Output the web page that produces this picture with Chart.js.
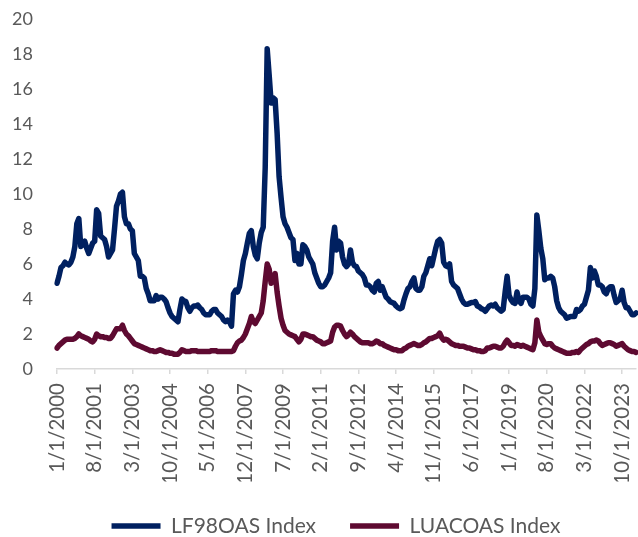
<!DOCTYPE html>
<html>
<head>
<meta charset="utf-8">
<script src="https://cdn.jsdelivr.net/npm/chart.js@4.4.1/dist/chart.umd.min.js"></script>
<style>
  html, body { margin: 0; padding: 0; background: #ffffff; }
  #wrap { width: 638px; height: 537px; }
</style>
</head>
<body>
<div id="wrap"><canvas id="c" width="638" height="537"></canvas></div>
<script>
// Monthly categories, Jan 2000 .. May 2024
const startYear = 2000;
const monthCount = 293;
const categories = [];
for (let i = 0; i < monthCount; i++) {
  const y = startYear + Math.floor(i / 12);
  const m = (i % 12) + 1;
  categories.push(m + '/1/' + y);
}

// Labels shown on the category axis
const tickLabels = ['1/1/2000','8/1/2001','3/1/2003','10/1/2004','5/1/2006','12/1/2007','7/1/2009',
  '2/1/2011','9/1/2012','4/1/2014','11/1/2015','6/1/2017','1/1/2019','8/1/2020','3/1/2022','10/1/2023'];

const yTicks = [0, 2, 4, 6, 8, 10, 12, 14, 16, 18, 20];

// LF98OAS Index (US High Yield OAS, %)
const hyOAS = [
  4.9, 5.3, 5.8, 5.9, 6.1, 6.0, 5.95, 6.1, 6.4, 7.0, 8.3, 8.6,      // 2000
  7.0, 7.1, 7.3, 6.9, 6.6, 6.9, 7.2, 7.3, 9.1, 8.9, 7.6, 7.5,       // 2001
  7.4, 7.0, 6.4, 6.6, 6.8, 8.0, 9.3, 9.6, 10.0, 10.1, 8.7, 8.3,     // 2002
  8.3, 8.0, 7.9, 6.6, 6.4, 6.2, 5.3, 5.3, 5.2, 4.6, 4.3, 3.9,       // 2003
  3.9, 3.9, 4.2, 4.0, 4.1, 4.1, 4.0, 3.85, 3.5, 3.2, 3.0, 2.9,      // 2004
  2.8, 2.7, 3.4, 4.0, 3.9, 3.85, 3.5, 3.3, 3.5, 3.6, 3.6, 3.65,     // 2005
  3.5, 3.4, 3.2, 3.1, 3.1, 3.1, 3.3, 3.4, 3.4, 3.2, 3.1, 3.0,       // 2006
  2.8, 2.7, 2.8, 2.7, 2.45, 4.3, 4.5, 4.4, 4.7, 5.4, 6.2, 6.6,      // 2007
  7.2, 7.75, 7.9, 7.0, 6.5, 6.3, 7.2, 7.8, 8.1, 11.5, 18.3, 16.8,   // 2008
  15.2, 15.5, 15.4, 13.5, 11.0, 9.8, 8.7, 8.3, 8.1, 7.8, 7.5, 7.4,  // 2009
  6.2, 6.6, 6.0, 6.0, 7.1, 7.0, 6.8, 6.4, 6.2, 6.0, 5.5, 5.2,       // 2010
  4.9, 4.7, 4.7, 4.8, 5.0, 5.2, 5.5, 7.3, 8.1, 6.8, 7.3, 7.2,       // 2011
  6.4, 6.0, 5.85, 6.0, 6.8, 6.1, 5.9, 5.85, 5.6, 5.5, 5.4, 5.2,     // 2012
  4.8, 4.8, 4.7, 4.5, 4.4, 4.9, 5.0, 4.5, 4.7, 4.4, 4.1, 4.0,       // 2013
  3.85, 3.8, 3.75, 3.6, 3.5, 3.45, 3.5, 3.95, 4.3, 4.6, 4.7, 5.0,   // 2014
  5.2, 4.6, 4.5, 4.5, 4.7, 5.3, 5.5, 5.9, 6.3, 5.9, 6.4, 6.9,       // 2015
  7.3, 7.4, 7.2, 6.1, 5.9, 5.85, 6.0, 5.0, 4.8, 4.7, 4.6, 4.3,      // 2016
  4.0, 3.8, 3.7, 3.7, 3.75, 3.8, 3.8, 3.85, 3.6, 3.55, 3.45, 3.4,   // 2017
  3.3, 3.45, 3.6, 3.65, 3.6, 3.7, 3.5, 3.4, 3.3, 3.4, 4.4, 5.3,     // 2018
  4.2, 3.95, 3.8, 3.75, 4.4, 3.9, 3.75, 4.1, 4.1, 4.1, 4.0, 3.7,    // 2019
  3.6, 4.6, 8.8, 7.9, 6.9, 6.3, 5.1, 5.2, 5.2, 5.3, 5.2, 4.7,       // 2020
  3.9, 3.5, 3.3, 3.2, 3.1, 2.9, 2.95, 3.0, 3.0, 3.0, 3.4, 3.3,      // 2021
  3.4, 3.6, 3.7, 4.1, 4.5, 5.8, 5.2, 5.6, 5.3, 4.8, 4.8, 4.7,       // 2022
  4.4, 4.3, 4.6, 4.7, 4.7, 4.2, 3.8, 3.9, 4.0, 4.5, 3.8, 3.5,       // 2023
  3.5, 3.3, 3.1, 3.1, 3.2                                           // 2024
];

// LUACOAS Index (US Investment Grade Corporate OAS, %)
const igOAS = [
  1.2, 1.35, 1.45, 1.55, 1.65, 1.7, 1.7, 1.7, 1.7, 1.75, 1.85, 2.0,      // 2000
  1.9, 1.85, 1.8, 1.75, 1.7, 1.6, 1.55, 1.7, 2.0, 1.9, 1.85, 1.85,       // 2001
  1.8, 1.8, 1.75, 1.75, 1.9, 2.1, 2.3, 2.3, 2.3, 2.5, 2.2, 2.0,          // 2002
  1.9, 1.75, 1.6, 1.45, 1.4, 1.35, 1.3, 1.25, 1.2, 1.15, 1.1, 1.05,      // 2003
  1.05, 1.0, 1.0, 1.05, 1.1, 1.05, 1.0, 0.95, 0.95, 0.9, 0.9, 0.85,      // 2004
  0.85, 0.85, 0.95, 1.1, 1.05, 1.0, 1.0, 1.0, 1.05, 1.05, 1.05, 1.0,     // 2005
  1.0, 1.0, 1.0, 1.0, 1.0, 1.0, 1.05, 1.05, 1.05, 1.0, 1.0, 1.0,         // 2006
  1.0, 1.0, 1.0, 1.0, 1.0, 1.05, 1.3, 1.5, 1.6, 1.65, 1.8, 2.0,          // 2007
  2.3, 2.6, 3.0, 2.7, 2.6, 2.8, 3.0, 3.2, 3.9, 5.0, 6.0, 5.7,            // 2008
  4.9, 5.1, 5.45, 4.4, 3.6, 2.9, 2.5, 2.2, 2.1, 2.0, 1.95, 1.9,          // 2009
  1.85, 1.7, 1.55, 1.7, 2.0, 2.0, 1.95, 1.9, 1.85, 1.85, 1.75, 1.65,     // 2010
  1.6, 1.55, 1.45, 1.45, 1.5, 1.55, 1.6, 2.1, 2.4, 2.5, 2.5, 2.45,       // 2011
  2.2, 2.0, 1.85, 1.95, 2.1, 2.0, 1.85, 1.75, 1.65, 1.55, 1.5, 1.5,      // 2012
  1.5, 1.5, 1.45, 1.45, 1.5, 1.6, 1.55, 1.45, 1.45, 1.35, 1.3, 1.25,     // 2013
  1.2, 1.15, 1.1, 1.1, 1.05, 1.05, 1.05, 1.15, 1.2, 1.3, 1.35, 1.4,      // 2014
  1.45, 1.4, 1.35, 1.35, 1.4, 1.5, 1.55, 1.65, 1.75, 1.75, 1.8, 1.85,    // 2015
  1.9, 2.05, 1.8, 1.65, 1.7, 1.65, 1.55, 1.45, 1.4, 1.35, 1.35, 1.3,     // 2016
  1.3, 1.3, 1.25, 1.2, 1.2, 1.15, 1.1, 1.1, 1.05, 1.05, 1.0, 1.0,        // 2017
  1.05, 1.2, 1.2, 1.25, 1.3, 1.3, 1.25, 1.2, 1.2, 1.3, 1.5, 1.65,        // 2018
  1.5, 1.35, 1.35, 1.3, 1.4, 1.35, 1.3, 1.35, 1.3, 1.25, 1.2, 1.15,      // 2019
  1.1, 1.5, 2.8, 2.1, 1.85, 1.65, 1.45, 1.4, 1.45, 1.45, 1.3, 1.2,       // 2020
  1.15, 1.1, 1.05, 1.0, 0.95, 0.9, 0.9, 0.9, 0.95, 0.95, 1.0, 0.95,      // 2021
  1.1, 1.2, 1.3, 1.4, 1.45, 1.55, 1.6, 1.6, 1.65, 1.6, 1.45, 1.35,       // 2022
  1.4, 1.45, 1.5, 1.5, 1.45, 1.4, 1.3, 1.35, 1.4, 1.45, 1.3, 1.2,        // 2023
  1.1, 1.05, 1.0, 1.0, 0.95                                              // 2024
];

const seriesNames = ['LF98OAS Index', 'LUACOAS Index'];
const seriesColors = ['#002060', '#5E0A31'];
const textColor = '#595959';
const axisColor = '#D9D9D9';
const fontFamily = 'Lato, Carlito, Calibri, "Open Sans", sans-serif';

// moves the legend row a little to the right, as in the original
const legendShift = {
  id: 'legendShift',
  afterLayout(chart) {
    const lg = chart.legend;
    if (lg) { lg.left += 18; lg.right += 18; }
  }
};

new Chart(document.getElementById('c'), {
  type: 'line',
  data: {
    labels: categories,
    datasets: [
      { label: seriesNames[0], data: hyOAS, borderColor: seriesColors[0], backgroundColor: seriesColors[0],
        borderWidth: 5.5, pointRadius: 0, tension: 0, borderJoinStyle: 'round', borderCapStyle: 'round', fill: false },
      { label: seriesNames[1], data: igOAS, borderColor: seriesColors[1], backgroundColor: seriesColors[1],
        borderWidth: 5.5, pointRadius: 0, tension: 0, borderJoinStyle: 'round', borderCapStyle: 'round', fill: false }
    ]
  },
  plugins: [legendShift],
  options: {
    responsive: false,
    animation: false,
    devicePixelRatio: 1,
    layout: { padding: { left: 0, right: 2, top: 19, bottom: -9.5 } },
    plugins: {
      tooltip: { enabled: false },
      legend: {
        position: 'bottom',
        labels: {
          usePointStyle: true,
          pointStyle: 'line',
          pointStyleWidth: 49,
          boxHeight: 18,
          padding: 34,
          color: textColor,
          font: { family: fontFamily, size: 21 }
        }
      }
    },
    scales: {
      x: {
        type: 'category',
        offset: false,
        border: { display: true, color: axisColor, width: 1.5 },
        grid: {
          display: true,
          drawOnChartArea: false,
          drawTicks: true,
          tickLength: 5,
          color: (ctx) => tickLabels.includes(categories[ctx.index]) ? axisColor : 'rgba(0,0,0,0)',
          lineWidth: 1.5
        },
        ticks: {
          autoSkip: false,
          minRotation: 90,
          maxRotation: 90,
          padding: 9,
          color: textColor,
          font: { family: fontFamily, size: 20.5 },
          callback: function (value, index) {
            const lbl = categories[index];
            return tickLabels.includes(lbl) ? lbl : '';
          }
        },
        afterFit: (scale) => {
          scale.height = 112.5;
          scale.paddingLeft = 0; scale.paddingRight = 0; scale.paddingTop = 0; scale.paddingBottom = 0;
        }
      },
      y: {
        type: 'linear',
        min: yTicks[0],
        max: yTicks[yTicks.length - 1],
        border: { display: false },
        grid: { display: false, drawTicks: false },
        ticks: {
          stepSize: yTicks[1] - yTicks[0],
          autoSkip: false,
          padding: 24,
          color: textColor,
          font: { family: fontFamily, size: 18 }
        },
        afterFit: (scale) => {
          scale.width = 57;
          scale.paddingLeft = 0; scale.paddingRight = 0; scale.paddingTop = 0; scale.paddingBottom = 0;
        }
      }
    }
  }
});
</script>
</body>
</html>
